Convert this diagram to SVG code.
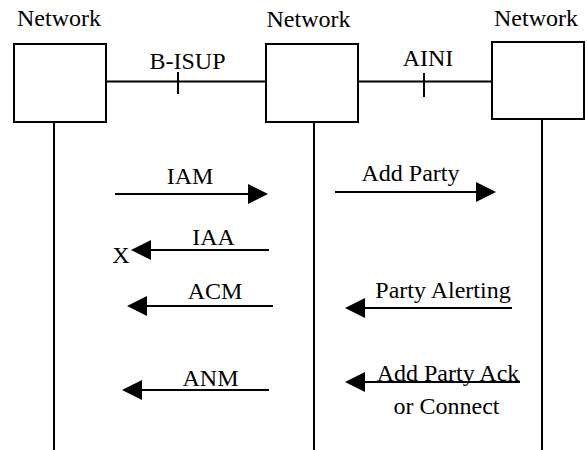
<svg xmlns="http://www.w3.org/2000/svg" width="587" height="450" viewBox="0 0 587 450">
<style>
text{font-family:'Liberation Serif','Times New Roman','DejaVu Serif',serif;font-size:24px;fill:#000;text-anchor:middle}
.box{fill:#fff;stroke:#000;stroke-width:2}
.ln{stroke:#000;stroke-width:2;fill:none}
.msg{stroke:#000;stroke-width:2;fill:none;marker-end:url(#ah)}
</style>
<defs>
<marker id="ah" viewBox="0 0 20 20" refX="10" refY="10" markerWidth="20" markerHeight="20" markerUnits="userSpaceOnUse" orient="auto">
<path d="M0,0 L20,10 L0,20 z" fill="#000"/>
</marker>
</defs>
<rect width="587" height="450" fill="#fff"/>
<g id="connectors">
<line class="ln" x1="106" y1="81.5" x2="266" y2="81.5"/>
<line class="ln" x1="178" y1="72" x2="178" y2="94"/>
<text x="187.5" y="69">B-ISUP</text>
<line class="ln" x1="358" y1="81.5" x2="492" y2="81.5"/>
<line class="ln" x1="424" y1="73" x2="424" y2="97"/>
<text x="428" y="66">AINI</text>
<line class="msg" x1="115" y1="194" x2="258" y2="194"/>
<text x="190" y="184">IAM</text>
<line class="msg" x1="269" y1="250" x2="141" y2="250"/>
<text x="213.5" y="245">IAA</text>
<text x="121" y="263">X</text>
<line class="msg" x1="273" y1="306" x2="137" y2="306"/>
<text x="215" y="299">ACM</text>
<line class="msg" x1="269" y1="390" x2="132" y2="390"/>
<text x="210.5" y="386">ANM</text>
<line class="msg" x1="335" y1="192" x2="486" y2="192"/>
<text x="410.5" y="181">Add Party</text>
<line class="msg" x1="512" y1="308" x2="355" y2="308"/>
<text x="443" y="298">Party Alerting</text>
<line class="msg" x1="520" y1="382" x2="355" y2="382"/>
<text x="448" y="381">Add Party Ack</text>
<text x="446.5" y="414">or Connect</text>
</g>
<g id="network-1">
<text x="59" y="26">Network</text>
<rect class="box" x="14" y="44" width="92" height="78"/>
<line class="ln" x1="54" y1="122" x2="54" y2="450"/>
</g>
<g id="network-2">
<text x="308.5" y="27">Network</text>
<rect class="box" x="266" y="44" width="92" height="78"/>
<line class="ln" x1="314" y1="122" x2="314" y2="450"/>
</g>
<g id="network-3">
<text x="536" y="26">Network</text>
<rect class="box" x="492" y="42" width="92" height="77"/>
<line class="ln" x1="542" y1="119" x2="542" y2="450"/>
</g>
</svg>
